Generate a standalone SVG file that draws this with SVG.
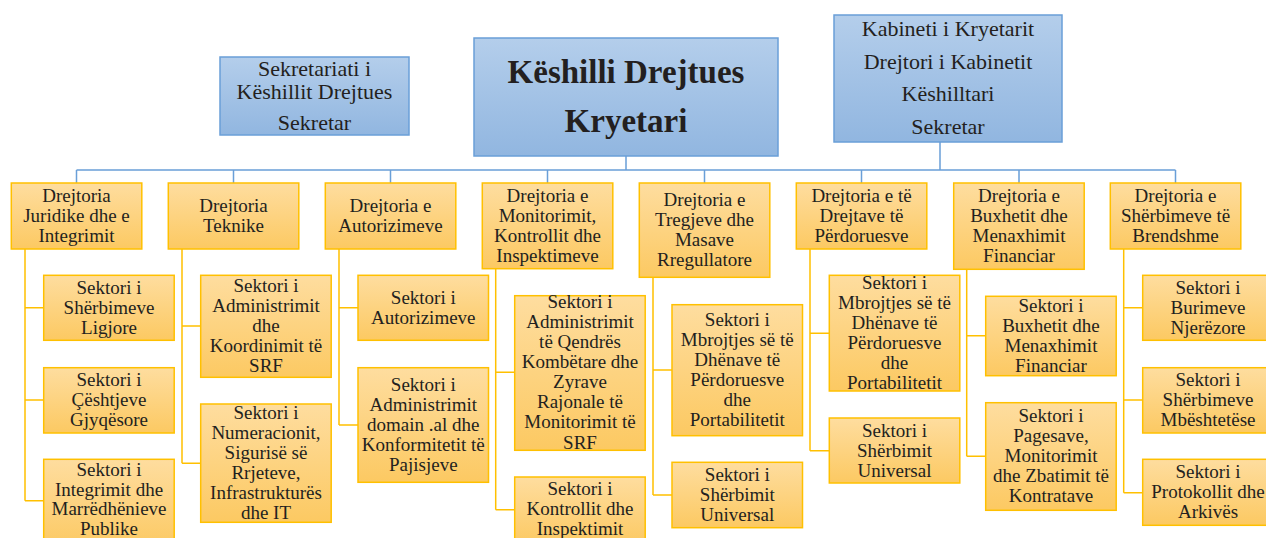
<svg xmlns="http://www.w3.org/2000/svg" width="1266" height="538" viewBox="0 0 1266 538">
<defs>
<linearGradient id="gb" x1="0" y1="0" x2="0" y2="1"><stop offset="0" stop-color="#b4ceeb"/><stop offset="1" stop-color="#91b6e0"/></linearGradient>
<linearGradient id="go" x1="0" y1="0" x2="0" y2="1"><stop offset="0" stop-color="#fedd9f"/><stop offset="1" stop-color="#fcc962"/></linearGradient>
</defs>
<style>
.boxBlue{fill:url(#gb);stroke:#6a9fd8;stroke-width:1.5}
.boxOrg{fill:url(#go);stroke:#ffc000;stroke-width:1.5}
.lblTop,.lblMain,.lblNode{fill:#231f20;text-anchor:middle}
.lblTop{font-size:22px}
.lblMain{font-size:33px;font-weight:bold}
.lblNode{font-size:19px}
.lineBlue{fill:none;stroke:#6a9fd8;stroke-width:1.5}
.lineOrg{fill:none;stroke:#ffc000;stroke-width:1.5}
</style>
<g id="connectors">
<path class="lineBlue" d="M626,156V170M940,142V170M76.5,170H1175.5M76.5,170V183M233.5,170V183M390.5,170V183M547.5,170V183M704.5,170V183M861.5,170V183M1019,170V183M1175.5,170V183"/>
<path class="lineOrg" d="M25,249V500.7M25,307.7H43.7M25,400H43.7M25,500.7H43.7
M182,249V463.3M182,326H200.7M182,463.3H200.7
M339,249V425M339,307.7H358M339,425H358
M495.7,268.7V509.7M495.7,372.3H514.7M495.7,509.7H514.7
M653,277.3V495M653,370H672M653,495H672
M810,249V450.7M810,333.3H829.3M810,450.7H829.3
M966.7,269.3V456.3M966.7,335.7H985.7M966.7,456.3H985.7
M1123.7,249V492.7M1123.7,307.7H1142.7M1123.7,400H1142.7M1123.7,492.7H1142.7"/>
</g>
<g id="sekretariati"><rect class="boxBlue" x="220" y="57" width="189" height="78"/>
<text font-family="Liberation Serif" class="lblTop" x="314.5" y="76">Sekretariati i</text><text font-family="Liberation Serif" class="lblTop" x="314.5" y="99">Këshillit Drejtues</text><text font-family="Liberation Serif" class="lblTop" x="314.5" y="130">Sekretar</text></g>
<g id="keshilli"><rect class="boxBlue" x="474" y="38" width="304" height="118"/>
<text font-family="Liberation Serif" class="lblMain" x="626" y="83">Këshilli Drejtues</text><text font-family="Liberation Serif" class="lblMain" x="626" y="132">Kryetari</text></g>
<g id="kabineti"><rect class="boxBlue" x="834" y="15" width="228" height="127"/>
<text font-family="Liberation Serif" class="lblTop" x="948" y="36">Kabineti i Kryetarit</text><text font-family="Liberation Serif" class="lblTop" x="948" y="68.5">Drejtori i Kabinetit</text><text font-family="Liberation Serif" class="lblTop" x="948" y="101">Këshilltari</text><text font-family="Liberation Serif" class="lblTop" x="948" y="133.5">Sekretar</text></g>

<g id="d1"><rect class="boxOrg" x="11.3" y="183" width="130.5" height="66"/>
<text font-family="Liberation Serif" class="lblNode" x="76.5" y="202">Drejtoria</text><text font-family="Liberation Serif" class="lblNode" x="76.5" y="222">Juridike dhe e</text><text font-family="Liberation Serif" class="lblNode" x="76.5" y="242">Integrimit</text></g>
<g id="d2"><rect class="boxOrg" x="168.3" y="183" width="130.5" height="66"/>
<text font-family="Liberation Serif" class="lblNode" x="233.5" y="212">Drejtoria</text><text font-family="Liberation Serif" class="lblNode" x="233.5" y="232">Teknike</text></g>
<g id="d3"><rect class="boxOrg" x="325.3" y="183" width="130.5" height="66"/>
<text font-family="Liberation Serif" class="lblNode" x="390.5" y="212">Drejtoria e</text><text font-family="Liberation Serif" class="lblNode" x="390.5" y="232">Autorizimeve</text></g>
<g id="d4"><rect class="boxOrg" x="482.3" y="183" width="130.5" height="85.7"/>
<text font-family="Liberation Serif" class="lblNode" x="547.5" y="202">Drejtoria e</text><text font-family="Liberation Serif" class="lblNode" x="547.5" y="222">Monitorimit,</text><text font-family="Liberation Serif" class="lblNode" x="547.5" y="242">Kontrollit dhe</text><text font-family="Liberation Serif" class="lblNode" x="547.5" y="262">Inspektimeve</text></g>
<g id="d5"><rect class="boxOrg" x="639.3" y="183" width="130.5" height="94.3"/>
<text font-family="Liberation Serif" class="lblNode" x="704.5" y="206">Drejtoria e</text><text font-family="Liberation Serif" class="lblNode" x="704.5" y="226">Tregjeve dhe</text><text font-family="Liberation Serif" class="lblNode" x="704.5" y="246">Masave</text><text font-family="Liberation Serif" class="lblNode" x="704.5" y="266">Rregullatore</text></g>
<g id="d6"><rect class="boxOrg" x="796.3" y="183" width="130.5" height="66"/>
<text font-family="Liberation Serif" class="lblNode" x="861.5" y="202">Drejtoria e të</text><text font-family="Liberation Serif" class="lblNode" x="861.5" y="222">Drejtave të</text><text font-family="Liberation Serif" class="lblNode" x="861.5" y="242">Përdoruesve</text></g>
<g id="d7"><rect class="boxOrg" x="953.7" y="183" width="130.5" height="86.3"/>
<text font-family="Liberation Serif" class="lblNode" x="1019" y="202">Drejtoria e</text><text font-family="Liberation Serif" class="lblNode" x="1019" y="222">Buxhetit dhe</text><text font-family="Liberation Serif" class="lblNode" x="1019" y="242">Menaxhimit</text><text font-family="Liberation Serif" class="lblNode" x="1019" y="262">Financiar</text></g>
<g id="d8"><rect class="boxOrg" x="1110.3" y="183" width="130.5" height="66"/>
<text font-family="Liberation Serif" class="lblNode" x="1175.5" y="202">Drejtoria e</text><text font-family="Liberation Serif" class="lblNode" x="1175.5" y="222">Shërbimeve të</text><text font-family="Liberation Serif" class="lblNode" x="1175.5" y="242">Brendshme</text></g>

<g id="d1s1"><rect class="boxOrg" x="43.7" y="275.3" width="130.5" height="65"/>
<text font-family="Liberation Serif" class="lblNode" x="109" y="293.8">Sektori i</text><text font-family="Liberation Serif" class="lblNode" x="109" y="313.8">Shërbimeve</text><text font-family="Liberation Serif" class="lblNode" x="109" y="333.8">Ligjore</text></g>
<g id="d1s2"><rect class="boxOrg" x="43.7" y="367.7" width="130.5" height="65.3"/>
<text font-family="Liberation Serif" class="lblNode" x="109" y="386.4">Sektori i</text><text font-family="Liberation Serif" class="lblNode" x="109" y="406.4">Çështjeve</text><text font-family="Liberation Serif" class="lblNode" x="109" y="426.4">Gjyqësore</text></g>
<g id="d1s3"><rect class="boxOrg" x="43.7" y="459.3" width="130.5" height="90"/>
<text font-family="Liberation Serif" class="lblNode" x="109" y="476">Sektori i</text><text font-family="Liberation Serif" class="lblNode" x="109" y="495.5">Integrimit dhe</text><text font-family="Liberation Serif" class="lblNode" x="109" y="515">Marrëdhënieve</text><text font-family="Liberation Serif" class="lblNode" x="109" y="534.5">Publike</text></g>

<g id="d2s1"><rect class="boxOrg" x="200.7" y="275.3" width="130.5" height="102"/>
<text font-family="Liberation Serif" class="lblNode" x="266" y="292.3">Sektori i</text><text font-family="Liberation Serif" class="lblNode" x="266" y="312.3">Administrimit</text><text font-family="Liberation Serif" class="lblNode" x="266" y="332.3">dhe</text><text font-family="Liberation Serif" class="lblNode" x="266" y="352.3">Koordinimit të</text><text font-family="Liberation Serif" class="lblNode" x="266" y="372.3">SRF</text></g>
<g id="d2s2"><rect class="boxOrg" x="200.7" y="404" width="130.5" height="118.3"/>
<text font-family="Liberation Serif" class="lblNode" x="266" y="419.2">Sektori i</text><text font-family="Liberation Serif" class="lblNode" x="266" y="439.2">Numeracionit,</text><text font-family="Liberation Serif" class="lblNode" x="266" y="459.2">Sigurisë së</text><text font-family="Liberation Serif" class="lblNode" x="266" y="479.2">Rrjeteve,</text><text font-family="Liberation Serif" class="lblNode" x="266" y="499.2">Infrastrukturës</text><text font-family="Liberation Serif" class="lblNode" x="266" y="519.2">dhe IT</text></g>

<g id="d3s1"><rect class="boxOrg" x="358" y="275.3" width="130.5" height="65"/>
<text font-family="Liberation Serif" class="lblNode" x="423.3" y="303.8">Sektori i</text><text font-family="Liberation Serif" class="lblNode" x="423.3" y="323.8">Autorizimeve</text></g>
<g id="d3s2"><rect class="boxOrg" x="358" y="367.7" width="130.5" height="114.6"/>
<text font-family="Liberation Serif" class="lblNode" x="423.3" y="391">Sektori i</text><text font-family="Liberation Serif" class="lblNode" x="423.3" y="411">Administrimit</text><text font-family="Liberation Serif" class="lblNode" x="423.3" y="431">domain .al dhe</text><text font-family="Liberation Serif" class="lblNode" x="423.3" y="451">Konformitetit të</text><text font-family="Liberation Serif" class="lblNode" x="423.3" y="471">Pajisjeve</text></g>

<g id="d4s1"><rect class="boxOrg" x="514.7" y="295.7" width="130.5" height="154.6"/>
<text font-family="Liberation Serif" class="lblNode" x="580" y="307.5">Sektori i</text><text font-family="Liberation Serif" class="lblNode" x="580" y="327.6">Administrimit</text><text font-family="Liberation Serif" class="lblNode" x="580" y="347.8">të Qendrës</text><text font-family="Liberation Serif" class="lblNode" x="580" y="368">Kombëtare dhe</text><text font-family="Liberation Serif" class="lblNode" x="580" y="388">Zyrave</text><text font-family="Liberation Serif" class="lblNode" x="580" y="408.2">Rajonale të</text><text font-family="Liberation Serif" class="lblNode" x="580" y="428.4">Monitorimit të</text><text font-family="Liberation Serif" class="lblNode" x="580" y="448.5">SRF</text></g>
<g id="d4s2"><rect class="boxOrg" x="514.7" y="477" width="130.5" height="68"/>
<text font-family="Liberation Serif" class="lblNode" x="580" y="495">Sektori i</text><text font-family="Liberation Serif" class="lblNode" x="580" y="515">Kontrollit dhe</text><text font-family="Liberation Serif" class="lblNode" x="580" y="535">Inspektimit</text></g>

<g id="d5s1"><rect class="boxOrg" x="672" y="304.7" width="130.5" height="131"/>
<text font-family="Liberation Serif" class="lblNode" x="737.3" y="325.5">Sektori i</text><text font-family="Liberation Serif" class="lblNode" x="737.3" y="345.5">Mbrojtjes së të</text><text font-family="Liberation Serif" class="lblNode" x="737.3" y="365.5">Dhënave të</text><text font-family="Liberation Serif" class="lblNode" x="737.3" y="385.5">Përdoruesve</text><text font-family="Liberation Serif" class="lblNode" x="737.3" y="405.5">dhe</text><text font-family="Liberation Serif" class="lblNode" x="737.3" y="425.5">Portabilitetit</text></g>
<g id="d5s2"><rect class="boxOrg" x="672" y="462.3" width="130.5" height="65.4"/>
<text font-family="Liberation Serif" class="lblNode" x="737.3" y="481">Sektori i</text><text font-family="Liberation Serif" class="lblNode" x="737.3" y="501">Shërbimit</text><text font-family="Liberation Serif" class="lblNode" x="737.3" y="521">Universal</text></g>

<g id="d6s1"><rect class="boxOrg" x="829.3" y="275.3" width="130.5" height="115.7"/>
<text font-family="Liberation Serif" class="lblNode" x="894.5" y="288.8">Sektori i</text><text font-family="Liberation Serif" class="lblNode" x="894.5" y="308.8">Mbrojtjes së të</text><text font-family="Liberation Serif" class="lblNode" x="894.5" y="328.8">Dhënave të</text><text font-family="Liberation Serif" class="lblNode" x="894.5" y="348.8">Përdoruesve</text><text font-family="Liberation Serif" class="lblNode" x="894.5" y="368.8">dhe</text><text font-family="Liberation Serif" class="lblNode" x="894.5" y="388.8">Portabilitetit</text></g>
<g id="d6s2"><rect class="boxOrg" x="829.3" y="418" width="130.5" height="65"/>
<text font-family="Liberation Serif" class="lblNode" x="894.5" y="436.5">Sektori i</text><text font-family="Liberation Serif" class="lblNode" x="894.5" y="456.5">Shërbimit</text><text font-family="Liberation Serif" class="lblNode" x="894.5" y="476.5">Universal</text></g>

<g id="d7s1"><rect class="boxOrg" x="985.7" y="296.3" width="130.5" height="79.4"/>
<text font-family="Liberation Serif" class="lblNode" x="1051" y="312">Sektori i</text><text font-family="Liberation Serif" class="lblNode" x="1051" y="332">Buxhetit dhe</text><text font-family="Liberation Serif" class="lblNode" x="1051" y="352">Menaxhimit</text><text font-family="Liberation Serif" class="lblNode" x="1051" y="372">Financiar</text></g>
<g id="d7s2"><rect class="boxOrg" x="985.7" y="402.7" width="130.5" height="107.6"/>
<text font-family="Liberation Serif" class="lblNode" x="1051" y="422">Sektori i</text><text font-family="Liberation Serif" class="lblNode" x="1051" y="442">Pagesave,</text><text font-family="Liberation Serif" class="lblNode" x="1051" y="462">Monitorimit</text><text font-family="Liberation Serif" class="lblNode" x="1051" y="482">dhe Zbatimit të</text><text font-family="Liberation Serif" class="lblNode" x="1051" y="502">Kontratave</text></g>

<g id="d8s1"><rect class="boxOrg" x="1142.7" y="275.3" width="130.5" height="65"/>
<text font-family="Liberation Serif" class="lblNode" x="1208" y="293.8">Sektori i</text><text font-family="Liberation Serif" class="lblNode" x="1208" y="313.8">Burimeve</text><text font-family="Liberation Serif" class="lblNode" x="1208" y="333.8">Njerëzore</text></g>
<g id="d8s2"><rect class="boxOrg" x="1142.7" y="367.7" width="130.5" height="65.3"/>
<text font-family="Liberation Serif" class="lblNode" x="1208" y="386.4">Sektori i</text><text font-family="Liberation Serif" class="lblNode" x="1208" y="406.4">Shërbimeve</text><text font-family="Liberation Serif" class="lblNode" x="1208" y="426.4">Mbështetëse</text></g>
<g id="d8s3"><rect class="boxOrg" x="1142.7" y="459.3" width="130.5" height="66"/>
<text font-family="Liberation Serif" class="lblNode" x="1208" y="478.3">Sektori i</text><text font-family="Liberation Serif" class="lblNode" x="1208" y="498.3">Protokollit dhe</text><text font-family="Liberation Serif" class="lblNode" x="1208" y="518.3">Arkivës</text></g>
</svg>
